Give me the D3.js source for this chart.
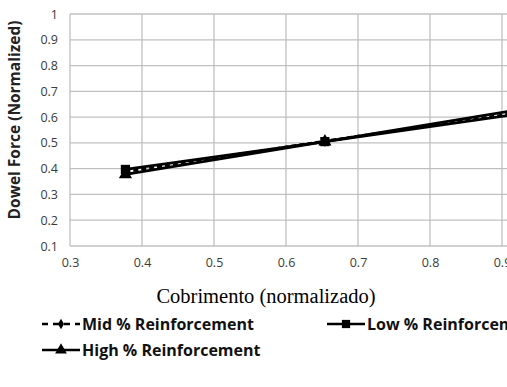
<!DOCTYPE html>
<html>
<head>
<meta charset="utf-8">
<script src="https://cdn.jsdelivr.net/npm/d3@7"></script>
<style>
  body { margin: 0; background: #fff; }
  .tick text { font-family: "Open Sans", "Liberation Sans", sans-serif; font-size: 12.5px; fill: #3a3a3a; }
  .grid line { stroke: #c0c0c0; stroke-width: 1.3; }
</style>
</head>
<body>
<svg width="507" height="387"></svg>
<script>
// data
let coverX = [0.377, 0.654, 0.93];
let midValues = [0.388, 0.507, 0.62];
let lowValues = [0.397, 0.505, 0.615];
let highValues = [0.378, 0.505, 0.632];
let xTicks = [0.3, 0.4, 0.5, 0.6, 0.7, 0.8, 0.9, 1.0];
let yTicks = [0.1, 0.2, 0.3, 0.4, 0.5, 0.6, 0.7, 0.8, 0.9, 1];

let series = [
  { name: "Low % Reinforcement", values: lowValues, marker: d3.symbolSquare, size: 85, dash: null },
  { name: "High % Reinforcement", values: highValues, marker: d3.symbolTriangle, size: 75, dash: null },
  { name: "Mid % Reinforcement", values: midValues, marker: d3.symbolDiamond, size: 40, dash: "5,3" }
];

let svg = d3.select("svg");

let x = d3.scaleLinear().domain([0.3, 1.0]).range([70, 574]),
  y = d3.scaleLinear().domain([0.1, 1]).range([246, 14]);

// gridlines
let grid = svg.append("g").attr("class", "grid");
grid.selectAll("line.h")
  .data(yTicks)
  .enter()
  .append("line")
  .attr("x1", x(0.3)).attr("x2", x(1.0))
  .attr("y1", d => y(d)).attr("y2", d => y(d));
grid.selectAll("line.v")
  .data(xTicks)
  .enter()
  .append("line")
  .attr("x1", d => x(d)).attr("x2", d => x(d))
  .attr("y1", y(1)).attr("y2", y(0.1));

// axes, text only
svg.append("g")
  .attr("transform", "translate(0," + y(0.1) + ")")
  .call(d3.axisBottom(x).tickValues(xTicks).tickSize(0).tickPadding(12).tickFormat(d3.format(".1f")))
  .call(g => g.select(".domain").remove());

svg.append("g")
  .attr("transform", "translate(" + x(0.3) + ",0)")
  .call(d3.axisLeft(y).tickValues(yTicks).tickSize(0).tickPadding(12).tickFormat(d => d === 1 ? "1" : d3.format(".1f")(d)))
  .call(g => g.select(".domain").remove());

// axis titles
svg.append("text")
  .attr("x", 266).attr("y", 303)
  .attr("text-anchor", "middle")
  .style("font-family", "'Liberation Serif', 'Times New Roman', serif")
  .style("font-size", "20.5px")
  .text("Cobrimento (normalizado)");

svg.append("text")
  .attr("transform", "translate(20,120) rotate(-90)")
  .attr("text-anchor", "middle")
  .style("font-family", "'Open Sans', sans-serif")
  .style("font-size", "15.5px")
  .style("font-weight", "bold")
  .attr("fill", "#222")
  .text("Dowel Force (Normalized)");

// lines
let line = d3.line()
  .x((d, i) => x(coverX[i]))
  .y(d => y(d));

let plot = svg.append("g");

series.forEach(function (s) {
  plot.append("path")
    .attr("d", line(s.values))
    .attr("fill", "none")
    .attr("stroke", "#000")
    .attr("stroke-width", 2.8)
    .attr("stroke-dasharray", s.dash);
  plot.selectAll(null)
    .data(s.values)
    .enter()
    .append("path")
    .attr("d", d3.symbol().type(s.marker).size(s.size))
    .attr("transform", (d, i) => "translate(" + x(coverX[i]) + "," + y(d) + ")")
    .attr("fill", "#000");
});

// legend
let legendPos = {
  "Mid % Reinforcement": [42, 324],
  "Low % Reinforcement": [327, 324],
  "High % Reinforcement": [42, 350]
};

let legend = svg.append("g");
series.forEach(function (s) {
  let p = legendPos[s.name];
  let g = legend.append("g").attr("transform", "translate(" + p[0] + "," + p[1] + ")");
  g.append("line")
    .attr("x1", 0).attr("x2", 38)
    .attr("stroke", "#000")
    .attr("stroke-width", 2.6)
    .attr("stroke-dasharray", s.dash ? "6,5" : null);
  g.append("path")
    .attr("d", d3.symbol().type(s.marker).size(s.size * 0.8))
    .attr("transform", "translate(19,0)")
    .attr("fill", "#000");
  g.append("text")
    .attr("x", 40).attr("y", 6)
    .style("font-family", "'Open Sans', sans-serif")
    .style("font-size", "16px")
    .style("font-weight", "bold")
    .attr("fill", "#111")
    .text(s.name);
});
</script>
</body>
</html>
